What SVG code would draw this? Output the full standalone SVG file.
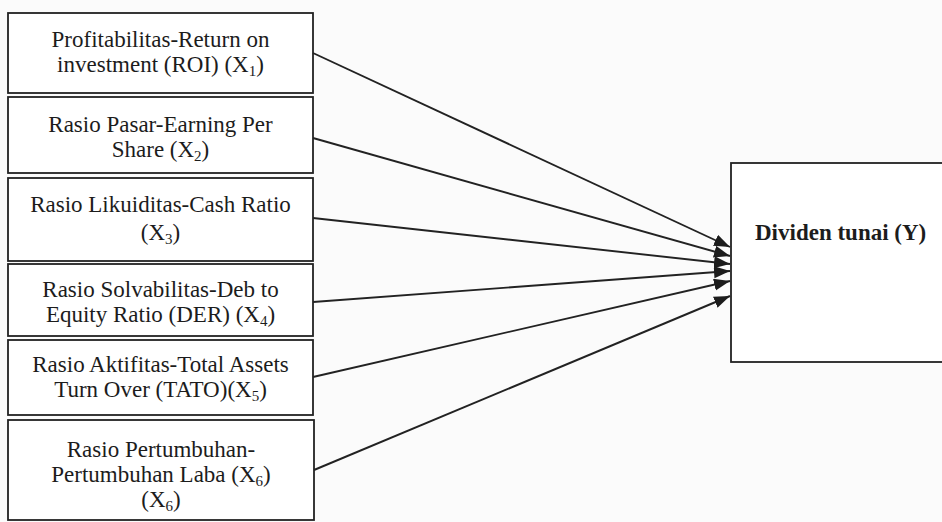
<svg xmlns="http://www.w3.org/2000/svg" width="942" height="522" viewBox="0 0 942 522">
<style>
.bg{fill:#fbfbfb}
.box{fill:#ffffff;stroke:#222;stroke-width:1.8}
.t{font-family:"Liberation Serif","Times New Roman",serif;font-size:23px;fill:#1c1c1c;text-anchor:middle}
.b{font-weight:bold;text-anchor:start}
.sub{font-size:15px}
.edge{stroke:#222;stroke-width:1.9;fill:none;marker-end:url(#ah)}
</style>
<defs>
<marker id="ah" markerUnits="userSpaceOnUse" markerWidth="18" markerHeight="14" refX="16" refY="6" orient="auto">
<path d="M0,0 L16,6 L0,12 Z" fill="#1c1c1c"/>
</marker>
</defs>
<rect class="bg" x="0" y="0" width="942" height="522"/>
<g id="x1">
<rect class="box" x="8" y="13" width="305" height="80"/>
<text class="t" x="160.5" y="47">Profitabilitas-Return on</text>
<text class="t" x="160.5" y="72">investment (ROI) (X<tspan class="sub" dy="4">1</tspan><tspan dy="-4">)</tspan></text>
</g>
<g id="x2">
<rect class="box" x="8" y="97" width="305" height="76"/>
<text class="t" x="160.5" y="132">Rasio Pasar-Earning Per</text>
<text class="t" x="160.5" y="157">Share (X<tspan class="sub" dy="4">2</tspan><tspan dy="-4">)</tspan></text>
</g>
<g id="x3">
<rect class="box" x="8" y="178" width="305" height="83"/>
<text class="t" x="160.5" y="212">Rasio Likuiditas-Cash Ratio</text>
<text class="t" x="160.5" y="240">(X<tspan class="sub" dy="4">3</tspan><tspan dy="-4">)</tspan></text>
</g>
<g id="x4">
<rect class="box" x="8" y="264" width="305" height="72"/>
<text class="t" x="160.5" y="297">Rasio Solvabilitas-Deb to</text>
<text class="t" x="160.5" y="322">Equity Ratio (DER) (X<tspan class="sub" dy="4">4</tspan><tspan dy="-4">)</tspan></text>
</g>
<g id="x5">
<rect class="box" x="8" y="340" width="305" height="75"/>
<text class="t" x="160.5" y="372">Rasio Aktifitas-Total Assets</text>
<text class="t" x="160.5" y="397">Turn Over (TATO)(X<tspan class="sub" dy="4">5</tspan><tspan dy="-4">)</tspan></text>
</g>
<g id="x6">
<rect class="box" x="8" y="420" width="306" height="100"/>
<text class="t" x="161" y="457">Rasio Pertumbuhan-</text>
<text class="t" x="161" y="482">Pertumbuhan Laba (X<tspan class="sub" dy="4">6</tspan><tspan dy="-4">)</tspan></text>
<text class="t" x="161" y="507">(X<tspan class="sub" dy="4">6</tspan><tspan dy="-4">)</tspan></text>
</g>
<g id="y">
<rect class="box" x="731" y="163" width="220" height="199"/>
<text class="t b" x="755" y="240">Dividen tunai (Y)</text>
</g>
<g id="connectors">
<line class="edge" x1="313" y1="53" x2="730" y2="247"/>
<line class="edge" x1="313" y1="138" x2="730" y2="256"/>
<line class="edge" x1="313" y1="218" x2="730" y2="264"/>
<line class="edge" x1="313" y1="302" x2="730" y2="271"/>
<line class="edge" x1="313" y1="377" x2="730" y2="281"/>
<line class="edge" x1="314" y1="470" x2="730" y2="296"/>
</g>
</svg>
